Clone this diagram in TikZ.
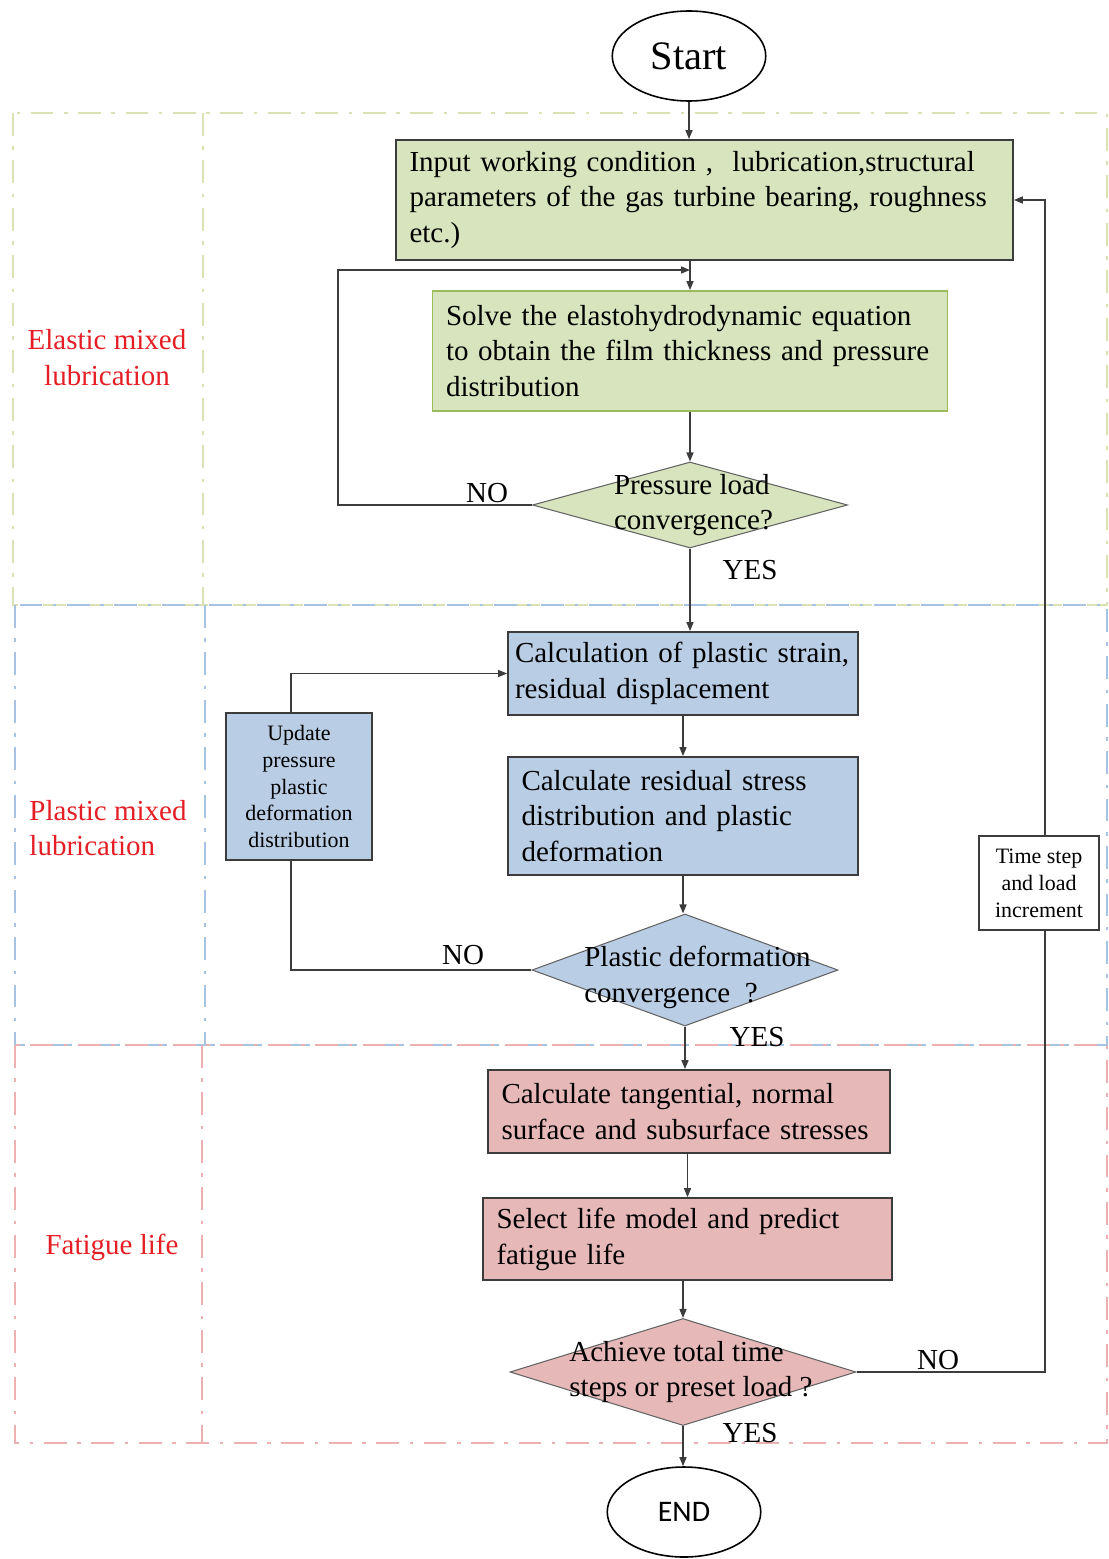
\documentclass[tikz,border=0pt]{standalone}
\usepackage{fontspec}
\setmainfont{Liberation Serif}
\newfontfamily\endfont{Carlito}
\usepackage{tikz}
\usetikzlibrary{arrows.meta,positioning,calc,shapes.geometric}
\definecolor{elcolor}{RGB}{215,228,189}
\definecolor{elborder}{RGB}{155,187,89}
\definecolor{plcolor}{RGB}{185,205,229}
\definecolor{ficolor}{RGB}{230,185,184}
\definecolor{elframe}{RGB}{218,226,180}
\definecolor{plframe}{RGB}{168,194,226}
\definecolor{fiframe}{RGB}{236,176,176}
\definecolor{linecolor}{RGB}{60,60,60}
\definecolor{labcolor}{RGB}{228,30,36}
\newcommand{\flowfont}{\fontsize{16.5}{20.4}\selectfont}
\newcommand{\smallflowfont}{\fontsize{12.5}{15.3}\selectfont}

\begin{document}
\begin{tikzpicture}[
    every node/.style={font=\flowfont},
    procbox/.style={rectangle, draw=linecolor, line width=1pt, align=left, inner xsep=0.27cm, inner ysep=0pt},
    decbox/.style={diamond, draw=linecolor!80, line width=0.6pt, inner sep=0pt},
    termbox/.style={ellipse, draw=black, line width=0.9pt, minimum width=3.07cm, minimum height=1.8cm},
    sidebox/.style={rectangle, draw=linecolor, line width=1pt, align=center, inner sep=0pt, font=\smallflowfont},
    arr/.style={-{Triangle[length=1.8mm,width=1.4mm]}, line width=0.8pt, draw=linecolor},
    conn/.style={line width=0.8pt, draw=linecolor},
    frame/.style={line width=1.6pt, dash pattern=on 13pt off 6pt on 2pt off 6pt},
    stagelab/.style={text=labcolor, align=center}
  ]
    \useasboundingbox (0,0) rectangle (22.18,-31.18);
    % Stage frames
    \draw[frame, elframe] (0.26,-2.26) rectangle (22.14,-12.1);
    \draw[frame, elframe] (4.06,-2.26) -- (4.06,-12.1);
    \draw[frame, plframe] (0.3,-12.1) rectangle (22.14,-20.9);
    \draw[frame, plframe] (4.1,-12.1) -- (4.1,-20.9);
    \draw[frame, fiframe] (0.3,-20.9) rectangle (22.14,-28.86);
    \draw[frame, fiframe] (4.04,-20.9) -- (4.04,-28.86);
    % Stage labels
    \node[stagelab] (lab1) at (2.14,-7.16) {Elastic mixed\\lubrication};
    \node[stagelab, align=left] (lab2) at (2.16,-16.56) {Plastic mixed\\lubrication};
    \node[stagelab] (lab3) at (2.24,-24.94) {Fatigue life};
    % Terminals
    \node[termbox, font=\fontsize{23}{26}\selectfont] (start) at (13.78,-1.12) {Start};
    \node[termbox, font=\endfont\fontsize{17}{20}\selectfont] (finish) at (13.68,-30.24) {END};
    % Elastic mixed lubrication
    \node[procbox, fill=elcolor, text width=11.8cm, minimum height=2.4cm] (input) at (14.09,-4.0)
      {Input working condition ,\ \ lubrication,structural\\parameters of the gas turbine bearing, roughness\\etc.)};
    \node[procbox, draw=elborder, fill=elcolor, text width=9.76cm, minimum height=2.4cm] (solve) at (13.8,-7.02)
      {Solve the elastohydrodynamic equation\\to obtain the film thickness and pressure\\distribution};
    \node[decbox, fill=elcolor, minimum width=6.3cm, minimum height=1.72cm,
      label={[align=left, xshift=0.07cm]center:{Pressure load\\convergence?}}] (d1) at (13.8,-10.1) {};
    % Plastic mixed lubrication
    \node[procbox, fill=plcolor, text width=6.72cm, inner xsep=0.14cm, minimum height=1.66cm] (calc) at (13.66,-13.47)
      {Calculation of plastic strain,\\residual displacement};
    \node[procbox, fill=plcolor, text width=6.46cm, minimum height=2.36cm] (resid) at (13.66,-16.32)
      {Calculate residual stress\\distribution and plastic\\deformation};
    \node[decbox, fill=plcolor, minimum width=6.12cm, minimum height=2.24cm,
      label={[align=left, xshift=0.25cm, yshift=-0.14cm]center:{Plastic deformation\\convergence\ \ ?}}] (d2) at (13.7,-19.4) {};
    \node[sidebox, fill=plcolor, minimum width=2.92cm, minimum height=2.94cm] (update) at (5.98,-15.73)
      {Update\\pressure\\plastic\\deformation\\distribution};
    % Fatigue life
    \node[procbox, fill=ficolor, text width=7.5cm, minimum height=1.66cm] (tang) at (13.78,-22.23)
      {Calculate tangential, normal\\surface and subsurface stresses};
    \node[procbox, fill=ficolor, text width=7.64cm, minimum height=1.64cm] (select) at (13.75,-24.78)
      {Select life model and predict\\fatigue life};
    \node[decbox, fill=ficolor, minimum width=6.92cm, minimum height=2.14cm,
      label={[align=left, xshift=0.16cm]center:{Achieve total time\\steps or preset load\ ?}}] (d3) at (13.66,-27.44) {};
    \node[sidebox, fill=white, minimum width=2.4cm, minimum height=1.88cm] (tstep) at (20.78,-17.66)
      {Time step\\and load\\increment};
    % Branch labels
    \node (no1) at (9.74,-9.86) {NO};
    \node (yes1) at (15.0,-11.4) {YES};
    \node (no2) at (9.26,-19.1) {NO};
    \node (yes2) at (15.14,-20.74) {YES};
    \node (no3) at (18.76,-27.2) {NO};
    \node (yes3) at (15.0,-28.66) {YES};
    % Main flow
    \coordinate (j1) at (13.8,-5.4);
    \draw[arr] (start) -- (start |- input.north);
    \draw[arr] (input.south -| solve.north) -- (solve.north);
    \draw[arr] (solve.south) -- (d1.north);
    \draw[arr] (d1.south) -- (d1.south |- calc.north);
    \draw[arr] (calc.south) -- (resid.north);
    \draw[arr] (resid.south) -- (resid.south |- d2.north);
    \draw[arr] (d2.south) -- (d2.south |- tang.north);
    \draw[arr] (tang.south -| select.north) -- (select.north);
    \draw[arr] (select.south -| d3.north) -- (d3.north);
    \draw[arr] (d3.south) -- (d3.south |- finish.north);
    % Feedback loops
    \coordinate (bend1) at (6.76,-10.1);
    \draw[arr] (d1.west) -- (bend1) |- (j1);
    \coordinate (bend2) at (5.82,-19.4);
    \draw[conn] (d2.west) -- (bend2) -- (bend2 |- update.south);
    \draw[arr] (bend2 |- update.north) |- (calc.west);
    \coordinate (bend3) at (20.9,-27.44);
    \draw[conn] (d3.east) -- (bend3) -- (bend3 |- tstep.south);
    \draw[arr] (bend3 |- tstep.north) |- (input.east);
  \end{tikzpicture}
\end{document}
